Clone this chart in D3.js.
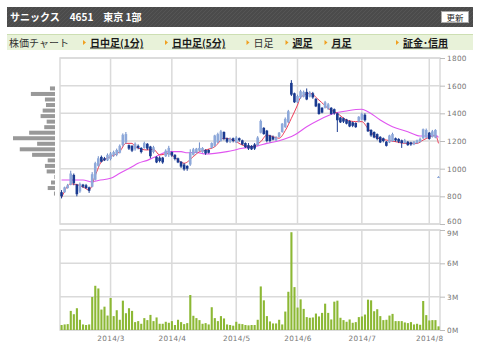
<!DOCTYPE html>
<html>
<head>
<meta charset="utf-8">
<script src="https://cdn.jsdelivr.net/npm/d3@7"></script>
<style>
  body { margin: 0; background: #fff; }
  svg text { font-family: "Noto Sans CJK JP", sans-serif; }
  .axis text { font-family: "DejaVu Sans", sans-serif; }
</style>
</head>
<body>
<svg width="480" height="356"></svg>
<script>
// trading days, Feb 6 - Aug 6 2014
var dates = [
  "02/06","02/07","02/10","02/12","02/13","02/14","02/17","02/18","02/19","02/20","02/21","02/24","02/25","02/26","02/27","02/28",
  "03/03","03/04","03/05","03/06","03/07","03/10","03/11","03/12","03/13","03/14","03/17","03/18","03/19","03/20","03/24","03/25","03/26","03/27","03/28","03/31",
  "04/01","04/02","04/03","04/04","04/07","04/08","04/09","04/10","04/11","04/14","04/15","04/16","04/17","04/18","04/21","04/22","04/23","04/24","04/25","04/28","04/30",
  "05/01","05/02","05/07","05/08","05/09","05/12","05/13","05/14","05/15","05/16","05/19","05/20","05/21","05/22","05/23","05/26","05/27","05/28","05/29","05/30",
  "06/02","06/03","06/04","06/05","06/06","06/09","06/10","06/11","06/12","06/13","06/16","06/17","06/18","06/19","06/20","06/23","06/24","06/25","06/26","06/27","06/30",
  "07/01","07/02","07/03","07/04","07/07","07/08","07/09","07/10","07/11","07/14","07/15","07/16","07/17","07/18","07/22","07/23","07/24","07/25","07/28","07/29","07/30","07/31",
  "08/01","08/04","08/05","08/06"
];

var open = [830,830,860,885,955,885,835,885,880,865, 870,920,1020,1085,1075,1060,1070,1095,1100,1115,
  1170,1190,1170,1165,1140,1165,1150,1150,1180,1160, 1120,1085,1080,1080,1090,1100,1120,1100,1075,1050,
  1030,1020,1030,1100,1115,1130,1120,1135,1135,1150, 1165,1190,1200,1265,1220,1195,1220,1190,1220,1205,
  1185,1170,1165,1175,1170,1260,1295,1275,1240,1230, 1205,1230,1265,1300,1335,1620,1545,1480,1515,1520,
  1555,1520,1545,1505,1470,1440,1440,1435,1440,1430, 1400,1370,1365,1355,1345,1335,1330,1340,1355,1390,
  1330,1280,1265,1250,1230,1220,1195,1190,1200,1220, 1215,1205,1185,1195,1190,1175,1185,1195,1220,1225,
  1260,1230,1225,940];
var high = [845,870,890,985,965,890,900,890,890,870, 975,1050,1090,1095,1085,1110,1120,1130,1145,1175,
  1255,1265,1175,1170,1190,1175,1155,1195,1185,1165, 1165,1090,1090,1085,1140,1165,1125,1105,1080,1055,
  1040,1025,1140,1150,1150,1190,1155,1140,1140,1190, 1245,1260,1280,1270,1225,1225,1225,1235,1225,1210,
  1190,1185,1170,1185,1235,1355,1300,1280,1245,1240, 1235,1265,1330,1370,1425,1640,1550,1535,1570,1565,
  1580,1560,1555,1510,1475,1445,1490,1475,1445,1435, 1405,1375,1370,1360,1350,1340,1335,1380,1405,1400,
  1335,1285,1270,1255,1235,1225,1200,1245,1260,1225, 1220,1210,1215,1200,1195,1200,1210,1225,1290,1290,
  1265,1280,1285,945];
var low = [785,825,855,880,880,800,825,860,855,825, 865,915,1015,1045,1055,1055,1060,1085,1090,1110,
  1160,1180,1135,1120,1130,1140,1110,1145,1135,1075, 1110,1040,1045,1035,1085,1085,1085,1060,1040,1005,
  985,985,1020,1095,1110,1125,1115,1100,1110,1145, 1160,1185,1195,1205,1185,1185,1190,1185,1195,1170,
  1150,1135,1135,1135,1165,1255,1245,1190,1190,1205, 1200,1225,1260,1295,1330,1525,1475,1475,1505,1515,
  1495,1515,1505,1445,1390,1400,1435,1425,1390,1390, 1265,1330,1330,1320,1300,1300,1295,1335,1350,1340,
  1265,1230,1220,1205,1185,1190,1160,1185,1195,1195, 1185,1150,1180,1165,1165,1170,1180,1190,1215,1220,
  1210,1225,1220,935];
var close = [800,865,880,965,895,815,890,870,860,840, 960,1040,1075,1050,1060,1100,1110,1120,1135,1165,
  1245,1250,1145,1130,1180,1150,1120,1185,1145,1090, 1155,1045,1055,1045,1130,1150,1095,1070,1045,1015,
  995,1000,1120,1140,1145,1150,1150,1110,1115,1185, 1240,1250,1270,1215,1195,1215,1200,1225,1205,1175,
  1155,1145,1140,1145,1225,1345,1250,1200,1200,1210, 1225,1260,1325,1360,1415,1535,1480,1525,1560,1555,
  1500,1550,1515,1450,1395,1405,1480,1465,1395,1400, 1350,1335,1340,1325,1305,1310,1300,1375,1395,1350,
  1270,1240,1225,1215,1190,1200,1165,1240,1250,1205, 1195,1185,1205,1170,1175,1195,1205,1215,1285,1280,
  1215,1270,1280,940];

// volume, millions of shares
var volume = [0.45,0.5,0.53,1.72,1.42,1.96,0.92,0.5,0.45,0.5, 2.97,3.98,3.74,1.84,2.1,1.3,2.88,1.25,1.78,0.92,
  2.64,1.51,1.96,1.72,0.71,0.8,0.56,1.07,0.89,1.36, 0.8,1.13,0.56,0.56,0.74,0.65,0.8,0.45,0.92,0.71,
  0.53,0.62,3.15,1.28,1.07,0.89,0.56,0.62,0.5,2.05, 1.07,0.8,1.25,1.04,0.5,0.45,0.39,0.74,0.56,
  0.53,0.45,0.42,0.45,0.45,0.92,3.92,2.67,1.25,0.77, 0.59,0.59,0.92,0.5,1.66,3.44,8.8,3.86,2.02,2.76,
  1.9,1.16,1.1,1.13,1.48,1.22,1.54,2.37,1.54,0.95, 2.55,2.64,1.1,0.89,0.74,0.95,0.65,0.71,1.16,1.22,
  1.39,2.73,2.67,1.69,1.87,1.25,0.89,0.92,1.3,1.45, 0.8,0.8,0.8,0.68,0.62,0.71,0.5,0.56,0.47,2.61,
  1.34,0.86,0.89,0.89,0.33];

// moving averages: [day index, price]
var ma5 = [[0,790],[3,890],[5,885],[7,868],[9,846],[11,950],[13,1050],[16,1087],[19,1123],[21,1183],[23,1183],
  [24,1160],[28,1135],[30,1140],[32,1099],[35,1111],[37,1080],[40,1039],[43,1087],[45,1123],[47,1135],[50,1159],
  [53,1220],[56,1207],[59,1171],[62,1159],[65,1195],[67,1243],[69,1231],[71,1220],[73,1275],[75,1364],[77,1460],
  [78,1515],[81,1545],[84,1496],[87,1436],[90,1400],[93,1352],[96,1340],[98,1340],[100,1290],[103,1222],[106,1207],
  [109,1195],[112,1183],[116,1183],[118,1207],[120,1227],[122,1240],[123,1183]];
var ma25 = [[0,918],[7,918],[10,905],[12,915],[16,930],[19,967],[23,1014],[25,1039],[28,1060],[31,1090],[35,1123],
  [39,1123],[41,1115],[44,1118],[47,1106],[54,1123],[59,1147],[64,1164],[67,1183],[71,1202],[76,1243],[80,1303],
  [84,1352],[89,1400],[93,1417],[98,1429],[100,1412],[104,1352],[108,1303],[113,1267],[117,1236],[120,1236],
  [122,1243],[123,1227]];

// volume by price (left histogram)
var vpPrice = [1580,1540,1500,1460,1420,1380,1340,1300,1260,1220,1180,1140,1100,1060,1020,980,940,900,860,820];
var vpVolume = [2.9,13.9,5.8,5.2,7.1,8.3,4.8,6.2,14.9,24.2,10.3,20.3,13.2,4.2,5.8,4.8,0.4,2.3,4.2,0.6];

var priceTicks = [600,800,1000,1200,1400,1600,1800];
var volTicks = [0,3,6,9];
var monthLabels = ["2014/3","2014/4","2014/5","2014/6","2014/7","2014/8"];

var navItems = [
  { label: "日中足(1分)", link: true },
  { label: "日中足(5分)", link: true },
  { label: "日足", link: false },
  { label: "週足", link: true },
  { label: "月足", link: true },
  { label: "証金･信用", link: true }
];
var navX = [83, 165, 246.5, 285.5, 324.5, 396];

var svg = d3.select("svg");
var left = 60, right = 440;
var N = dates.length;

var x = d3.scaleLinear([-0.5, N - 0.5], [left, right]);
var y = d3.scaleLinear([600, 1800], [224, 58]);
var yv = d3.scaleLinear([0, 9], [330, 230]);
var vpx = d3.scaleLinear([0, d3.max(vpVolume)], [0, 42]);

// header
var defs = svg.append("defs");
var pat = defs.append("pattern").attr("id", "stripe").attr("width", 4).attr("height", 4)
  .attr("patternUnits", "userSpaceOnUse");
pat.append("rect").attr("width", 4).attr("height", 4).attr("fill", "#4b4b4b");
pat.append("path").attr("d", "M0,4 L4,0").attr("stroke", "#555").attr("stroke-width", 1);

svg.append("rect").attr("x", 7).attr("y", 7).attr("width", 466).attr("height", 20).attr("fill", "url(#stripe)");
svg.append("text").attr("x", 10).attr("y", 21).attr("fill", "#fff").attr("font-size", 10)
  .attr("font-weight", "bold").text("サニックス　4651　東京 1部");
svg.append("rect").attr("x", 441.5).attr("y", 11.5).attr("width", 27).attr("height", 11)
  .attr("fill", "#fff").attr("stroke", "#aaa");
svg.append("text").attr("x", 455).attr("y", 20.5).attr("text-anchor", "middle").attr("font-size", 8.5)
  .attr("fill", "#222").text("更新");

// nav bar
svg.append("rect").attr("x", 7).attr("y", 34).attr("width", 466).attr("height", 16).attr("fill", "#e8f2d9");
svg.append("line").attr("x1", 7).attr("x2", 473).attr("y1", 34.5).attr("y2", 34.5)
  .attr("stroke", "#cddfb3").attr("stroke-width", 1.2);
svg.append("text").attr("x", 9).attr("y", 46.5).attr("font-size", 10).attr("fill", "#333").text("株価チャート");
var nav = svg.append("g").selectAll("g").data(navItems).join("g")
  .attr("transform", function (d, i) { return "translate(" + navX[i] + ",0)"; });
nav.append("path").attr("d", "M0,40 L3,42.5 L0,45 Z").attr("fill", "#f0a020");
nav.append("text").attr("x", 7).attr("y", 46.5).attr("font-size", 10)
  .attr("fill", function (d) { return d.link ? "#1a1a1a" : "#333"; })
  .attr("font-weight", function (d) { return d.link ? "bold" : "normal"; })
  .attr("text-decoration", function (d) { return d.link ? "underline" : "none"; })
  .text(function (d) { return d.label; });

// month starts
var monthIdx = monthLabels.map(function (m) {
  var mm = m.split("/")[1].padStart(2, "0");
  return dates.findIndex(function (d) { return d.slice(0, 2) === mm; });
});

var grid = "#dadada";
function panel(top, bottom, hTicks, scale) {
  var g = svg.append("g");
  g.append("rect").attr("x", left).attr("y", top).attr("width", right - left).attr("height", bottom - top)
    .attr("fill", "#fff").attr("stroke", grid).attr("stroke-width", 1.5);
  g.selectAll(".h").data(hTicks).join("line")
    .attr("x1", left).attr("x2", right)
    .attr("y1", function (d) { return scale(d); }).attr("y2", function (d) { return scale(d); })
    .attr("stroke", grid).attr("stroke-width", 1.5);
  g.selectAll(".v").data(monthIdx).join("line")
    .attr("x1", function (d) { return x(d); }).attr("x2", function (d) { return x(d); })
    .attr("y1", top).attr("y2", bottom)
    .attr("stroke", grid).attr("stroke-width", 1.5);
}
panel(58, 224, priceTicks, y);
panel(230, 330, volTicks, yv);

// axes
var ax1 = svg.append("g").attr("class", "axis").attr("transform", "translate(" + right + ",0)")
  .call(d3.axisRight(y).tickValues(priceTicks).tickSize(5).tickPadding(2).tickFormat(d3.format("d")));
var ax2 = svg.append("g").attr("class", "axis").attr("transform", "translate(" + right + ",0)")
  .call(d3.axisRight(yv).tickValues(volTicks).tickSize(5).tickPadding(2)
    .tickFormat(function (d) { return d + "M"; }));
var ax3 = svg.append("g").attr("class", "axis").attr("transform", "translate(0,330)")
  .call(d3.axisBottom(x).tickValues(monthIdx).tickSize(0).tickPadding(6)
    .tickFormat(function (d, i) { return monthLabels[i]; }));
[ax1, ax2, ax3].forEach(function (a) {
  a.select(".domain").remove();
  a.selectAll("line").attr("stroke", "#bbb");
  a.selectAll("text").attr("fill", "#777").attr("font-size", 7.3).attr("letter-spacing", 0.3);
});
// bottom price label sits just above the volume panel's top label
ax1.selectAll(".tick text").filter(function (d) { return d === 600; }).attr("dy", "-0.1em");
ax2.selectAll(".tick text").filter(function (d) { return d === 9; }).attr("dy", "0.75em");

// volume by price
svg.append("g").selectAll("rect").data(vpPrice).join("rect")
  .attr("x", function (d, i) { return 55 - vpx(vpVolume[i]); })
  .attr("y", function (d) { return y(d) - 2; })
  .attr("width", function (d, i) { return vpx(vpVolume[i]); })
  .attr("height", 4)
  .attr("fill", "#999");

// volume bars
svg.append("g").selectAll("rect").data(volume).join("rect")
  .attr("x", function (d, i) { return x(i) - 1; })
  .attr("y", function (d) { return yv(d); })
  .attr("width", 2.1)
  .attr("height", function (d) { return yv(0) - yv(d); })
  .attr("fill", "#8cb834");

// moving averages
var line = d3.line()
  .x(function (d) { return x(d[0]); })
  .y(function (d) { return y(d[1]); })
  .curve(d3.curveMonotoneX);
svg.append("path").datum(ma25).attr("d", line).attr("fill", "none")
  .attr("stroke", "#e055f0").attr("stroke-width", 1.1);
svg.append("path").datum(ma5).attr("d", line).attr("fill", "none")
  .attr("stroke", "#ee3a55").attr("stroke-width", 1);

// candles
var idx = d3.range(N);
var candle = svg.append("g").selectAll("g").data(idx).join("g");
function up(i) { return close[i] >= open[i]; }
candle.append("line")
  .attr("x1", function (i) { return x(i); }).attr("x2", function (i) { return x(i); })
  .attr("y1", function (i) { return y(high[i]); }).attr("y2", function (i) { return y(low[i]); })
  .attr("stroke", function (i) { return up(i) ? "#6d8cc8" : "#1a3a90"; })
  .attr("stroke-width", 1);
candle.append("rect")
  .attr("x", function (i) { return x(i) - 1.3; })
  .attr("width", 2.6)
  .attr("y", function (i) { return y(Math.max(open[i], close[i])); })
  .attr("height", function (i) { return Math.max(1, Math.abs(y(open[i]) - y(close[i]))); })
  .attr("fill", function (i) { return up(i) ? "#8ea9da" : "#1a3a90"; });
</script>
</body>
</html>
